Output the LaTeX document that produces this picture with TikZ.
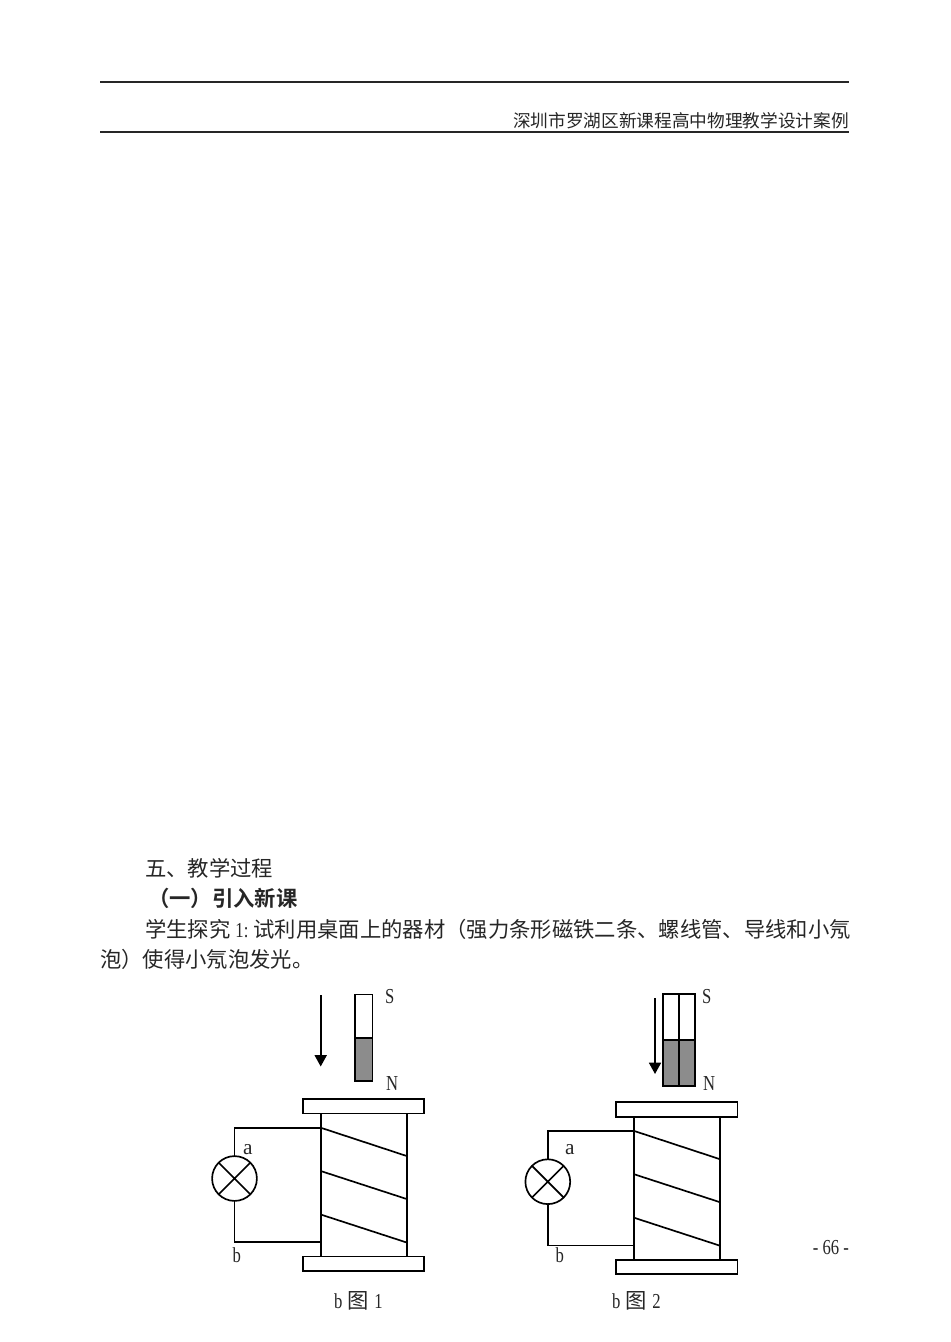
\documentclass[tikz,border=0pt]{standalone}
\usepackage{fontspec}
\setmainfont{Liberation Serif}
\newfontfamily\nar{Liberation Serif}[FakeStretch=0.78]
\newfontfamily\cjk{Noto Sans CJK SC}
\newfontfamily\cjkb{Noto Sans CJK SC Bold}
\usetikzlibrary{arrows.meta}
\tikzset{
  x=0.75pt,y=-0.75pt,
  ln/.style={line width=1.25pt,black},
  rule/.style={line width=1.35pt,black!85},
  box/.style={draw,line width=1.25pt,fill=white,rectangle,inner sep=0pt,outer sep=0pt,anchor=north west},
  lamp/.style={draw,line width=1.25pt,circle,inner sep=0pt,outer sep=0pt,minimum size=33.6pt},
  txt/.style={anchor=base west,inner sep=0pt,outer sep=0pt,font=\fontsize{16}{16}\selectfont\nar,text=black!85},
  arrowln/.style={line width=1.25pt,-{Triangle[width=9pt,length=8.5pt]}},
  coil/.pic={
    \node[box,minimum width=64.5pt,minimum height=107.2pt] (-body) at (0,0) {};
    \node[box,minimum width=90.8pt,minimum height=10.9pt] (-top) at (-17.7,-14.5) {};
    \node[box,minimum width=90.8pt,minimum height=10.9pt] (-bot) at (-17.7,143) {};
    \node[lamp] (-bulb) at (-86.2,65) {};
    \draw[ln] (-bulb.45) -- (-bulb.225) (-bulb.135) -- (-bulb.315);
    \coordinate (-wa) at (0,14.2);
    \coordinate (-wb) at (0,128.8);
    \coordinate (-a1) at (86,42.5);
    \coordinate (-b0) at (0,57.5);
    \coordinate (-b1) at (86,85.5);
    \coordinate (-c0) at (0,101);
    \coordinate (-c1) at (86,129);
    \draw[ln] (-bulb.north) |- (-wa);
    \draw[ln] (-bulb.south) |- (-wb);
    \draw[ln] (-wa) -- (-a1);
    \draw[ln] (-b0) -- (-b1);
    \draw[ln] (-c0) -- (-c1);
  }
}
\begin{document}
\begin{tikzpicture}
\useasboundingbox (0,0) rectangle (950,1342);
% header
\coordinate (r1a) at (100,82); \coordinate (r1b) at (849,82);
\coordinate (r2a) at (100,132); \coordinate (r2b) at (849,132);
\draw[rule] (r1a) -- (r1b);
\draw[rule] (r2a) -- (r2b);
\node[txt,anchor=base east,font=\fontsize{13.26}{14}\selectfont] (hdr) at (849,127) {\cjk 深圳市罗湖区新课程高中物理教学设计案例};
% text
\node[txt] (l1) at (145,876) {\cjk 五、教学过程};
\node[txt] (l2) at (148,906) {\cjkb （一）引入新课};
\node[txt] (l3) at (145,937) {\cjk 学生探究\kern.24em{\nar 1:}\kern.24em 试利用桌面上的器材（强力条形磁铁二条、螺线管、导线和小氖};
\node[txt] (l4) at (100,967) {\cjk 泡）使得小氖泡发光。};
% figure 1
\pic (A) at (320.7,1113.5) {coil};
\node[box,minimum width=13.1pt,minimum height=32.4pt] (m1s) at (355,994.5) {};
\node[box,fill=black!45,minimum width=13.1pt,minimum height=32.4pt] (m1n) at (355,1037.8) {};
\coordinate (ar1a) at (320.7,995); \coordinate (ar1b) at (320.7,1066.5);
\draw[arrowln] (ar1a) -- (ar1b);
\node[txt] (s1) at (385,1003) {S};
\node[txt] (n1) at (386,1090) {N};
\node[txt] (a1) at (243,1154) {\rmfamily a};
\node[txt] (b1) at (232.5,1262) {b};
\node[txt] (c1) at (334,1308) {b\kern.25em{\cjk 图}\kern.25em 1};
% figure 2
\pic (B) at (634,1116.7) {coil};
\node[box,minimum width=12.2pt,minimum height=34.5pt] (m2s) at (662.7,994) {};
\node[box,minimum width=12.2pt,minimum height=34.5pt] (m2t) at (679,994) {};
\node[box,fill=black!45,minimum width=12.2pt,minimum height=34.5pt] (m2n) at (662.7,1040) {};
\node[box,fill=black!45,minimum width=12.2pt,minimum height=34.5pt] (m2o) at (679,1040) {};
\coordinate (ar2a) at (655,998); \coordinate (ar2b) at (655,1074);
\draw[arrowln] (ar2a) -- (ar2b);
\node[txt] (s2) at (702,1003) {S};
\node[txt] (n2) at (703,1090) {N};
\node[txt] (a2) at (565,1154) {\rmfamily a};
\node[txt] (b2) at (555.5,1262) {b};
\node[txt] (c2) at (612,1308) {b\kern.25em{\cjk 图}\kern.25em 2};
% page number
\node[txt,anchor=base east] (pg) at (849,1254) {- 66 -};
\end{tikzpicture}
\end{document}
